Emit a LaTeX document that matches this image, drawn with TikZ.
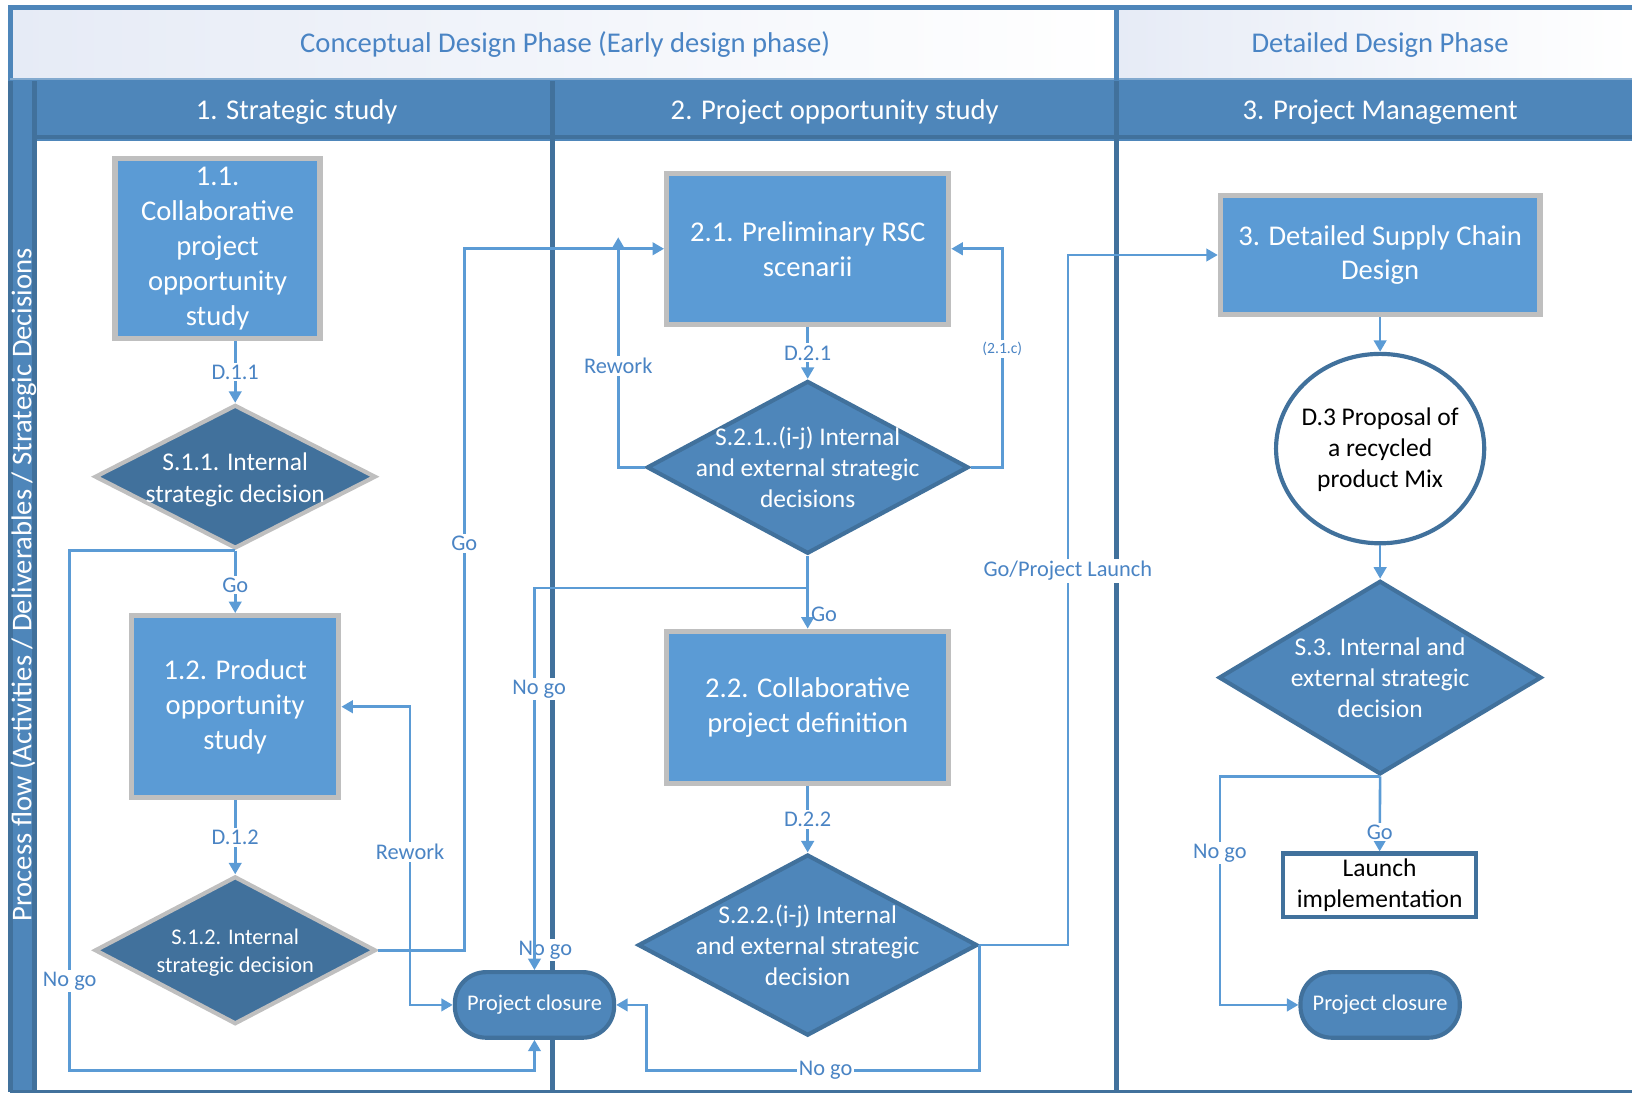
\documentclass[tikz,border=0pt]{standalone}
\usepackage{fontspec}
\setmainfont{Carlito}
\usetikzlibrary{arrows.meta,positioning,calc,shapes.geometric}
\definecolor{procblue}{HTML}{5B9BD5}
\definecolor{lanedark}{HTML}{41719C}
\definecolor{lanemid}{HTML}{4E86BA}
\definecolor{labelblue}{HTML}{4A84C4}
\definecolor{hdrtint}{HTML}{E6EBF6}

\begin{document}
\begin{tikzpicture}[
    x=1pt,y=-1pt,
    >={Triangle[length=11pt,width=12pt]},
    box/.style={rectangle,draw=black!25,line width=5pt,fill=procblue,text=white,align=center,inner sep=0pt,font=\fontsize{27.5}{33.5}\selectfont},
    decgray/.style={diamond,draw=black!25,line width=4pt,fill=lanedark,inner sep=0pt},
    decblue/.style={diamond,draw=lanedark,line width=4pt,fill=lanemid,inner sep=0pt},
    dectext/.style={text=white,align=center,font=\fontsize{24.5}{30}\selectfont},
    deliv/.style={ellipse,draw=lanedark,line width=4pt,fill=white,inner sep=0pt},
    delivtext/.style={align=center,font=\fontsize{24.5}{30}\selectfont},
    launchbox/.style={rectangle,draw=lanedark,line width=4pt,fill=white,align=center,inner sep=0pt,font=\fontsize{24.5}{30}\selectfont},
    closure/.style={rectangle,rounded corners=30pt,draw=lanedark,line width=4pt,fill=lanemid,text=white,minimum width=153pt,minimum height=63pt,font=\fontsize{21.5}{26}\selectfont},
    phase/.style={text=labelblue,font=\fontsize{27.5}{33}\selectfont},
    lane/.style={text=white,font=\fontsize{27.5}{33}\selectfont},
    lbl/.style={fill=white,text=labelblue,inner sep=2pt,font=\fontsize{21.5}{26}\selectfont},
    flow/.style={draw=procblue,line width=2.5pt}]

    \useasboundingbox (0,0) rectangle (1568,1050);

    \shade[left color=hdrtint,right color=white] (10,8) rectangle (1073,75);
    \shade[left color=hdrtint,right color=white] (1073,8) rectangle (1568,75);
    \fill[lanemid] (10,76) rectangle (1568,135);
    \fill[lanemid] (10,76) rectangle (34,1049);
    \draw[lanemid,line width=5pt] (10,78) -- (10,7.5) -- (1568,7.5);
    \draw[lanemid!70,line width=2pt] (10,76) -- (1568,76);
    \draw[lanedark,line width=4pt] (33,132) -- (1568,132);
    \draw[lanedark,line width=5pt] (10,78) -- (10,1049);
    \draw[lanedark,line width=4.5pt] (33,78) -- (33,1049);
    \draw[lanedark,line width=4.5pt] (530.5,78) -- (530.5,1049);
    \draw[lanemid,line width=5pt] (1073,7) -- (1073,78);
    \draw[lanedark,line width=4.5pt] (1073,78) -- (1073,1049);
    \draw[lanedark,line width=2.5pt] (10,1048.7) -- (1568,1048.7);

    \node[phase] (early) at (543,43) {Conceptual Design Phase (Early design phase)};
    \node[phase] (detailed) at (1326,43) {Detailed Design Phase};
    \node[lane] (lane1) at (285,107.5) {1. Strategic study};
    \node[lane] (lane2) at (802,107.5) {2. Project opportunity study};
    \node[lane] (lane3) at (1326,107.5) {3. Project Management};
    \node[lane,rotate=90] (flowtitle) at (22.5,562) {Process flow (Activities / Deliverables / Strategic Decisions};

    \node[box,minimum width=197,minimum height=173] (act11) at (209,239) {1.1.\\Collaborative\\project\\opportunity\\study};
    \node[decgray,minimum width=270,minimum height=138,
      label={[dectext,yshift=-3pt]center:S.1.1. Internal\\strategic decision}] (dec11) at (226,458) {};
    \node[box,minimum width=199,minimum height=175] (act12) at (226,679) {1.2. Product\\opportunity\\study};
    \node[decgray,minimum width=270,minimum height=142,
      label={[dectext,yshift=-2pt,font=\fontsize{21.5}{27}\selectfont]center:S.1.2. Internal\\strategic decision}] (dec12) at (226,913) {};
    \node[closure] (close1) at (513.5,965.5) {Project closure};

    \node[box,minimum width=271,minimum height=145] (act21) at (776,239) {2.1. Preliminary RSC\\scenarii};
    \node[decblue,minimum width=309,minimum height=166,
      label={[dectext]center:S.2.1..(i-j) Internal\\and external strategic\\decisions}] (dec21) at (776,449) {};
    \node[box,minimum width=271,minimum height=146] (act22) at (776,679.5) {2.2. Collaborative\\project definition};
    \node[decblue,minimum width=326,minimum height=174,
      label={[dectext]center:S.2.2.(i-j) Internal\\and external strategic\\decision}] (dec22) at (776,908) {};

    \node[box,minimum width=307,minimum height=115] (act3) at (1326,245) {3. Detailed Supply Chain\\Design};
    \node[deliv,minimum width=200,minimum height=182,
      label={[delivtext,yshift=-1pt]center:D.3 Proposal of\\a recycled\\product Mix}] (del3) at (1326,431) {};
    \node[decblue,minimum width=310,minimum height=186,
      label={[dectext]center:S.3. Internal and\\external strategic\\decision}] (dec3) at (1326,651) {};
    \node[launchbox,minimum width=185,minimum height=61] (launch) at (1325.5,850.5) {Launch\\implementation};
    \node[closure] (close3) at (1326,965.5) {Project closure};

    \draw[flow,->] (dec11.north |- act11.south) -- node[lbl]{D.1.1} (dec11.north);
    \draw[flow,->] (dec11.south) -- node[lbl,pos=0.55]{Go} (act12.north);
    \draw[flow,->] (dec11.south) -| node[lbl,pos=0.914]{No go} (67,1028.5) -| (close1.south);
    \draw[flow,->] (act12) -- node[lbl]{D.1.2} (dec12);
    \draw[flow,->] (dec12.east) -| node[lbl,pos=0.79]{Go} (446,239) -- (act21.west);
    \draw[flow,<->] (act12.east) -| node[lbl,pos=0.743]{Rework} (394,965.5) -- (close1.west);

    \draw[flow,->] (act21) -- node[lbl]{D.2.1} (dec21);
    \draw[flow,->] (dec21.west) -| node[lbl,pos=0.72]{Rework} (594,228);
    \draw[flow,->] (dec21.east) -| node[lbl,pos=0.77,font=\fontsize{15}{18}\selectfont]{(2.1.c)} (963,239) -- (act21.east);
    \draw[flow,->] (dec21.south) -- node[pos=0.8,right,text=labelblue,inner sep=2pt,font=\fontsize{21.5}{26}\selectfont]{Go} (act22.north);
    \node[lbl] (nogo21) at (524,913) {No go};
    \draw[flow,->] (dec21.south) -- (776,565) -| node[lbl,pos=0.632,xshift=4.5pt]{No go} (close1.north);
    \draw[flow,->] (act22) -- node[lbl]{D.2.2} (dec22);
    \draw[flow,->] (dec22.east) -| node[lbl,pos=0.771]{Go/Project Launch} (1026,245) -- (act3.west);
    \draw[flow,->] (dec22.east) |- node[lbl,pos=0.731]{No go} (621,1028.5) -- (621,965.5) -- (close1.east);

    \draw[flow,->] (act3) -- (del3);
    \draw[flow,->] (del3) -- (dec3);
    \draw[flow,->] (dec3.south) -- node[lbl,pos=0.74]{Go} (launch.north);
    \draw[flow,->] (dec3.south) -| node[lbl,pos=0.667]{No go} (1172,965.5) -- (close3.west);
  \end{tikzpicture}
\end{document}
